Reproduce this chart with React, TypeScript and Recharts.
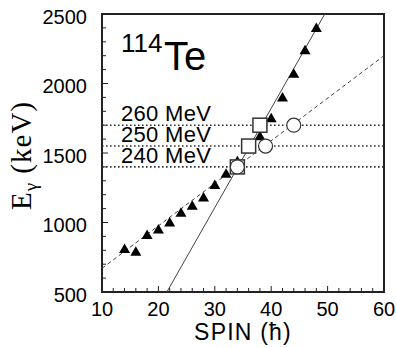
import React from 'react';
import {
  ComposedChart,
  Line,
  Scatter,
  XAxis,
  YAxis,
  ReferenceLine,
  ReferenceArea,
  Customized,
} from 'recharts';

// triangles (measured E_gamma vs spin)
const triSpin = [14, 16, 18, 20, 22, 24, 26, 28, 30, 32, 34, 36, 38, 40, 42, 44, 46, 48];
const triE = [810, 790, 910, 950, 1000, 1070, 1120, 1180, 1270, 1350, 1440, 1530, 1620, 1750, 1900, 2070, 2240, 2400];

// open squares and circles at the three bombarding energies
const sqSpin = [34, 36, 38];
const sqE = [1400, 1550, 1700];
const circSpin = [34, 39, 44];
const circE = [1400, 1550, 1700];

// straight-line fits
const solidSpin = [21.5, 49.5];
const solidE = [500, 2500];
const dashSpin = [10, 60];
const dashE = [670, 2200];

// horizontal dotted levels
const levelE = [1400, 1550, 1700];
const levelLabels = ['240 MeV', '250 MeV', '260 MeV'];

const xMajor = [10, 20, 30, 40, 50, 60];
const yMajor = [500, 1000, 1500, 2000, 2500];
const xTicks = Array.from({ length: 26 }, (_, i) => 10 + i * 2);
const yTicks = Array.from({ length: 21 }, (_, i) => 500 + i * 100);

const zip = (xs: number[], ys: number[]) => xs.map((x, i) => ({ x, y: ys[i] }));

const triData = zip(triSpin, triE);
const sqData = zip(sqSpin, sqE);
const circData = zip(circSpin, circE);
const solidData = zip(solidSpin, solidE);
const dashData = zip(dashSpin, dashE);

const W = 396;
const H = 348;
const LEFT = 102;
const TOP = 14;
const RIGHT = 384;
const BOTTOM = 292;
const SANS = '"Liberation Sans", Arial, Helvetica, sans-serif';
const SERIF = '"Liberation Serif", "Times New Roman", serif';
const INK = '#222';

function XTick(props: any) {
  const { x, payload } = props;
  const v = payload.value;
  const major = xMajor.includes(v);
  return (
    <g>
      <line x1={x} x2={x} y1={BOTTOM} y2={BOTTOM - (major ? 6 : 4)} stroke={INK} strokeWidth={1} />
      {major && (
        <text x={x} y={BOTTOM + 24} textAnchor="middle" fontFamily={SANS} fontSize={20} fill="#000">
          {v}
        </text>
      )}
    </g>
  );
}

function YTick(props: any) {
  const { y, payload } = props;
  const v = payload.value;
  const major = yMajor.includes(v);
  return (
    <g>
      <line x1={LEFT} x2={LEFT + (major ? 6 : 4)} y1={y} y2={y} stroke={INK} strokeWidth={1} />
      {major && (
        <text x={LEFT - 15} y={y + 9.5} textAnchor="end" fontFamily={SANS} fontSize={20} fill="#000">
          {v}
        </text>
      )}
    </g>
  );
}

function Triangle(props: any) {
  const { cx, cy } = props;
  return <polygon points={`${cx},${cy - 5.5} ${cx - 5.5},${cy + 4} ${cx + 5.5},${cy + 4}`} fill="#000" />;
}

function Square(props: any) {
  const { cx, cy } = props;
  return <rect x={cx - 7} y={cy - 7} width={14} height={14} fill="#fff" stroke="#333" strokeWidth={1.5} />;
}

function Circle(props: any) {
  const { cx, cy } = props;
  return <circle cx={cx} cy={cy} r={7} fill="#fff" stroke="#333" strokeWidth={1.2} />;
}

function Annotations() {
  return (
    <g>
      <text x={121} y={52} fontFamily={SANS} fontSize={26} fill="#000">114</text>
      <text x={164} y={70} fontFamily={SANS} fontSize={40} fill="#000">Te</text>
      <text
        x={(LEFT + RIGHT) / 2}
        y={340}
        textAnchor="middle"
        fontFamily={SANS}
        fontSize={23}
        letterSpacing={1.2}
        fill="#000"
      >
        SPIN (ħ)
      </text>
      <text
        x={31}
        y={210}
        transform="rotate(-90, 31, 210)"
        textAnchor="start"
        fontFamily={SERIF}
        fontSize={29}
        letterSpacing={1}
        fill="#000"
      >
        E
        <tspan fontSize={19} dy={6}>γ</tspan>
        <tspan dy={-6}> (keV)</tspan>
      </text>
    </g>
  );
}

function LevelLabel(text: string) {
  return (props: any) => {
    const vb = props.viewBox;
    return (
      <text x={vb.x + 19} y={vb.y - 4} fontFamily={SANS} fontSize={22} letterSpacing={0.3} fill="#000">
        {text}
      </text>
    );
  };
}

export default function App() {
  return (
    <div style={{ position: 'absolute', left: 0, top: 0, width: W, height: H, background: '#fff' }}>
      <ComposedChart width={W} height={H} margin={{ top: TOP, right: W - RIGHT, bottom: 0, left: 0 }}>
        <XAxis
          type="number"
          dataKey="x"
          domain={[10, 60]}
          ticks={xTicks}
          interval={0}
          allowDataOverflow
          axisLine={false}
          tickLine={false}
          height={H - BOTTOM}
          tick={<XTick />}
        />
        <YAxis
          type="number"
          dataKey="y"
          domain={[500, 2500]}
          ticks={yTicks}
          interval={0}
          allowDataOverflow
          axisLine={false}
          tickLine={false}
          width={LEFT}
          tick={<YTick />}
        />
        {levelE.map((e, i) => (
          <ReferenceLine
            key={e}
            y={e}
            stroke="#333"
            strokeWidth={1.6}
            strokeDasharray="1.6 2.4"
            label={LevelLabel(levelLabels[i])}
          />
        ))}
        <Line
          data={solidData}
          dataKey="y"
          type="linear"
          stroke="#444"
          strokeWidth={1}
          dot={false}
          isAnimationActive={false}
        />
        <Line
          data={dashData}
          dataKey="y"
          type="linear"
          stroke="#444"
          strokeWidth={1}
          strokeDasharray="4 3"
          dot={false}
          isAnimationActive={false}
        />
        <Scatter data={triData} dataKey="y" shape={<Triangle />} isAnimationActive={false} />
        <Scatter data={sqData} dataKey="y" shape={<Square />} isAnimationActive={false} />
        <Scatter data={circData} dataKey="y" shape={<Circle />} isAnimationActive={false} />
        <ReferenceArea x1={10} x2={60} y1={500} y2={2500} fill="none" stroke={INK} strokeWidth={2} />
        <Customized component={<Annotations />} />
      </ComposedChart>
    </div>
  );
}
